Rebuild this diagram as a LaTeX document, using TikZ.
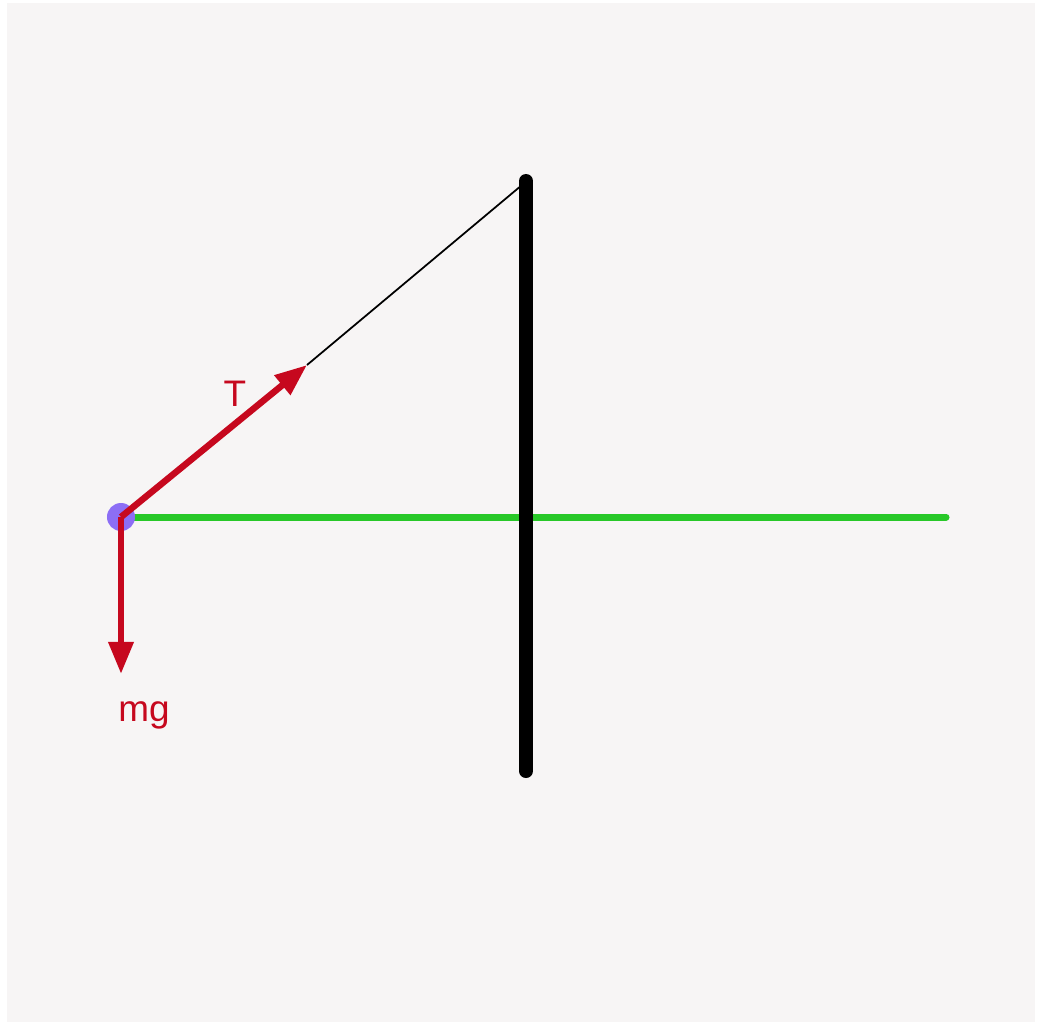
\documentclass[tikz,border=0pt]{standalone}
\usepackage{fontspec}
\setmainfont{Liberation Sans}
\usepackage{xcolor}
\definecolor{forcered}{RGB}{198, 8, 30}
\definecolor{ballpurple}{RGB}{140, 110, 245}
\definecolor{axisgreen}{RGB}{40, 200, 40}
\definecolor{panelgray}{RGB}{247, 245, 245}
\usepackage{tikz}
\usetikzlibrary{positioning, arrows.meta, calc}

\begin{document}
\begin{tikzpicture}[x=0.01cm, y=-0.01cm, >={Triangle[length=0.32cm, width=0.24cm]}, every node/.style={font=\fontsize{10.5}{12}\selectfont, text=forcered}]
    % Page and background panel
    \useasboundingbox (0,0) rectangle (1037,1024);
    \fill [white] (0,0) rectangle (1037,1024);
    \fill [panelgray] (7,3) rectangle (1035,1022);

    % Key points
    \coordinate (walltop) at (526,181);
    \coordinate (wallbottom) at (526,771);
    \coordinate (axisend) at (946,517);
    \coordinate (ttip) at (307,365);
    \coordinate (gtip) at (121,674);
    \coordinate (stringend) at (522,185);

    % Horizontal axis and wall
    \draw [axisgreen, line width=0.07cm, line cap=round] (113,517) -- (axisend);
    \draw [black, line width=0.14cm, line cap=round] (walltop) -- (wallbottom);

    % Mass point
    \node [circle, fill=ballpurple, inner sep=0pt, minimum size=0.28cm] (mass) at (121,517) {};

    % String from arrow tip to wall
    \draw [black, line width=0.5pt] (ttip) -- (stringend);

    % Force arrows
    \draw [->, forcered, line width=0.065cm] (mass.center) -- (ttip);
    \draw [->, forcered, line width=0.065cm] (mass.center) -- (gtip);

    % Labels
    \node (tlabel) at (235,394) {T};
    \node (mglabel) at (144,715) {mg};
\end{tikzpicture}
\end{document}
